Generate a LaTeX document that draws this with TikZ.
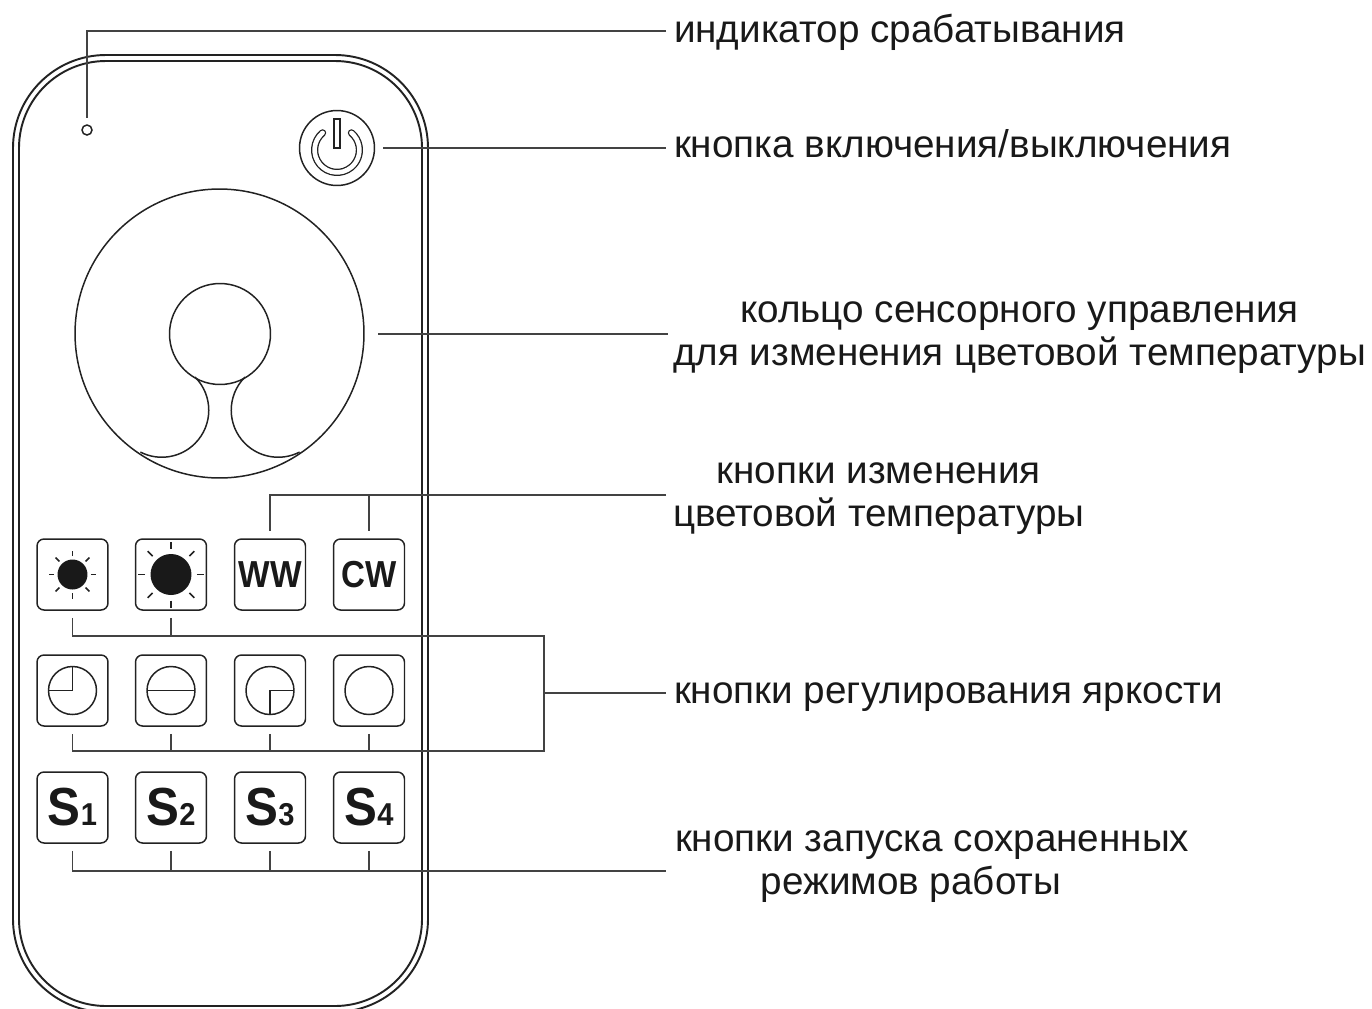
\documentclass[tikz,border=0pt]{standalone}
\usepackage{fontspec}
\setmainfont{Liberation Sans}
\definecolor{inkline}{HTML}{222222}
\tikzset{
  every picture/.style={x=0.02cm, y=-0.02cm},
  outline/.style={draw=inkline, line width=0.85pt},
  leader/.style={draw=inkline!85, line width=0.7pt},
  keybox/.style={outline, rounded corners=0.14cm, minimum size=1.42cm, inner sep=0pt, text=black!90},
  caption/.style={anchor=west, inner sep=0pt, outer xsep=0.16cm, align=center, font=\fontsize{22}{24.4}\selectfont, text=black!90},
}
\begin{document}
\begin{tikzpicture}
      \useasboundingbox (0,0) rectangle (1372,1008);
      \clip (0,0) rectangle (1372,1008);

      % Body of the remote
      \draw[outline, line width=1.1pt, rounded corners=1.86cm] (13,55) rectangle (428,1012);
      \draw[outline, line width=1.1pt, rounded corners=1.74cm] (19,61) rectangle (422,1006);

      % Indicator and power key
      \node[outline, circle, inner sep=0pt, minimum size=0.2cm] (led) at (87,130) {};
      \node[outline, circle, inner sep=0pt, minimum size=1.5cm] (power) at (337,148) {};
      \draw[outline] (334,119) rectangle (340,148);
      \draw[inkline, line width=0.75pt, double=white, double distance=2.6pt, line cap=round]
        (337,150) ++(130:0.448cm) arc[start angle=130, end angle=410, radius=0.448cm];

      % Touch ring
      \node[outline, circle, inner sep=0pt, minimum size=5.78cm] (ring) at (219.5,333.5) {};
      \node[outline, circle, inner sep=0pt, minimum size=2.02cm] (hub) at (220,334) {};
      \draw[outline] (195,377) arc[start angle=45, end angle=-117, radius=0.94cm];
      \draw[outline] (245,377) arc[start angle=135, end angle=297, radius=0.94cm];

      % Keys
      \foreach \col/\xpos in {1/72.5, 2/171, 3/270, 4/369} {
        \node[keybox, font=\bfseries\fontsize{30.5}{30.5}\selectfont] (c\col) at (\xpos,807.5)
          {\scalebox{0.92}[1]{S{\fontsize{18}{18}\selectfont\col}}};
        \node[keybox] (a\col) at (\xpos,574.5) {};
        \node[keybox] (b\col) at (\xpos,690.5) {};
      }
      \node[font=\bfseries\fontsize{21.4}{21.4}\selectfont, text=black!90] (wwtext) at (a3) {\scalebox{0.89}[1]{WW}};
      \node[font=\bfseries\fontsize{21.4}{21.4}\selectfont, text=black!90] (cwtext) at (a4) {\scalebox{0.88}[1]{CW}};

      % Suns
      \fill[black!90] (a1.center) circle (0.3cm);
      \fill[black!90] (a2.center) circle (0.41cm);
      \foreach \ang in {0,45,...,315} {
        \draw[outline] (a1.center) ++(\ang:0.37cm) -- ++(\ang:0.11cm);
        \draw[outline] (a2.center) ++(\ang:0.52cm) -- ++(\ang:0.14cm);
      }

      % Level icons
      \foreach \col in {1,2,3,4} {
        \draw[outline] (b\col.center) circle (0.48cm);
      }
      \draw[outline] (b1.center) ++(0,-24) -- (b1.center) -- ++(-24,0);
      \draw[outline] (b2.center) ++(-24,0) -- ++(48,0);
      \draw[outline] (b3.center) ++(24,0) -- (b3.center) -- ++(0,24);

      % Captions
      \node[caption] (ledlabel) at (666,32) {индикатор срабатывания};
      \node[caption] (powerlabel) at (666,144) {кнопка включения/выключения};
      \node[caption] (ringlabel) at (665,338) {кольцо сенсорного управления\\для изменения цветовой температуры};
      \node[caption] (templabel) at (665,499) {кнопки изменения\\цветовой температуры};
      \node[caption] (brightlabel) at (666,697) {кнопки регулирования яркости};
      \node[caption] (scenelabel) at (667,867) {кнопки запуска сохраненных\\режимов работы\hspace*{24pt}};

      \coordinate (ledend) at (666,31);
      \coordinate (powerend) at (666,148);
      \coordinate (ringend) at (668,334);
      \coordinate (tempend) at (666,495);
      \coordinate (brightend) at (666,693);
      \coordinate (brighttop) at (544,636);
      \coordinate (brightbot) at (544,751);
      \coordinate (brightmid) at (544,693);
      \coordinate (sceneend) at (666,871);
      \coordinate (powerstart) at (383,148);
      \coordinate (ringstart) at (378,334);

      % Leaders
      \draw[leader, shorten >=0.12cm] (ledend) -| (led);
      \draw[leader] (powerstart) -- (powerend);
      \draw[leader] (ringstart) -- (ringend);
      \draw[leader, shorten >=0.14cm] (tempend) -| (a3.north);
      \draw[leader, shorten >=0.14cm] (a4.north |- tempend) -- (a4.north);
      \draw[leader, shorten <=0.14cm] (a1.south) |- (brighttop) -- (brightbot) -| ([yshift=-0.14cm]b1.south);
      \draw[leader, shorten <=0.14cm] (a2.south) -- (a2.south |- brighttop);
      \draw[leader] (brightmid) -- (brightend);
      \foreach \col in {2,3,4} {
        \draw[leader, shorten <=0.14cm] (b\col.south) -- (b\col.south |- brightbot);
        \draw[leader, shorten <=0.14cm] (c\col.south) -- (c\col.south |- sceneend);
      }
      \draw[leader, shorten <=0.14cm] (c1.south) |- (sceneend);
    \end{tikzpicture}
\end{document}
